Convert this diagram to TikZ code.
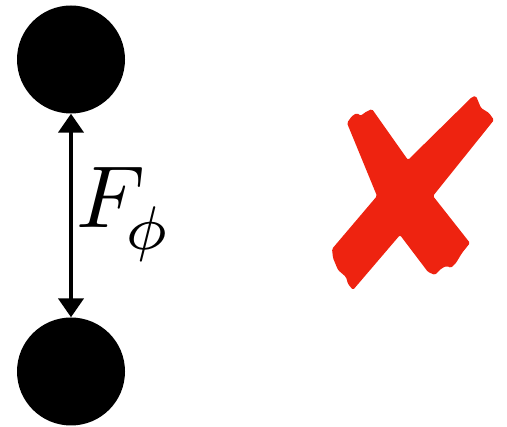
\documentclass[tikz,border=0pt]{standalone}
\usepackage{graphicx}
\usetikzlibrary{arrows.meta}
\definecolor{xred}{RGB}{238,35,16}
\begin{document}
\begin{tikzpicture}[x=1pt,y=-1pt,
  ball/.style={circle,fill=black,draw=none,minimum size=108pt,inner sep=0pt},
  force/.style={line width=4.3pt,{Triangle[width=25pt,length=19pt]}-{Triangle[width=25pt,length=19pt]}},
  cross/.style={fill=xred,draw=none,rounded corners=1.5pt}]
\useasboundingbox (0,0) rectangle (507,427);
\node[ball] (top) at (71,59.5) {};
\node[ball] (bot) at (71,371.5) {};
\draw[force] (top) -- (bot);
\node[anchor=base west,inner sep=0pt] (lab) at (76,228)
  {\scalebox{8.8}{$F_{\kern-0.8pt\raisebox{-1pt}{$\scriptstyle\phi$}}$}};
% red cross
\fill[cross] (347,123) -- (352,116) -- (357,113) -- (361,116) -- (364,113) -- (372,109)
  -- (408,160)
  -- (472,97) -- (476,96) -- (481,108) -- (489,113) -- (494,120)
  -- (433,196)
  -- (470,243) -- (462,253) -- (456,263) -- (451,268) -- (447,266) -- (442,268) -- (435,275) -- (428,272)
  -- (400,235)
  -- (353,290) -- (348,284) -- (346,277) -- (338,270) -- (333,258) -- (332,249)
  -- (377,196) -- cycle;
\end{tikzpicture}
\end{document}
